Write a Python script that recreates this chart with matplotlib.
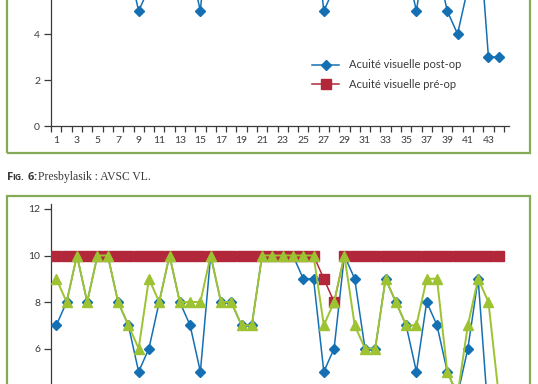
import matplotlib
matplotlib.use("Agg")
import matplotlib.pyplot as plt
from matplotlib.patches import Rectangle

W, H, DPI = 538, 384, 100

# ---------------- data ----------------
patients = list(range(1, 45))
post_op = [7, 8, 10, 8, 10, 10, 8, 7, 5, 6, 8, 10, 8, 7, 5, 10, 8, 8, 7, 7,
           10, 10, 10, 10, 9, 9, 5, 6, 10, 9, 6, 6, 9, 8, 7, 5, 8, 7, 5, 4,
           6, 9, 3, 3]
post_op_corr = [9, 8, 10, 8, 10, 10, 8, 7, 6, 9, 8, 10, 8, 8, 8, 10, 8, 8, 7, 7,
                10, 10, 10, 10, 10, 10, 7, 8, 10, 7, 6, 6, 9, 8, 7, 7, 9, 9, 5, 4,
                7, 9, 8, 4]
pre_op = [10] * 26 + [9, 8] + [10] * 16
x_tick_pos = list(range(1, 44, 2))
x_tick_labels = [str(i) for i in x_tick_pos]
top_y_ticks = [0, 2, 4]
bottom_y_ticks = [6, 8, 10, 12]
label_post = "Acuité visuelle post-op"
label_pre = "Acuité visuelle pré-op"
caption_rest = "Presbylasik : AVSC VL."

BLUE = "#1470b3"
GREEN = "#9dc232"
RED = "#b2283a"
FRAME = "#86ab58"
INK = "#3a3a3a"

plt.rcParams["font.family"] = ["Lato", "DejaVu Sans"]

fig = plt.figure(figsize=(W / DPI, H / DPI), dpi=DPI)
fig.patch.set_facecolor("white")


def px_axes(left, right, y0_px, unit_px, ymax):
    b = (H - y0_px) / H
    h = ymax * unit_px / H
    return fig.add_axes([left / W, b, (right - left) / W, h])


def style(ax, yticks, xlabels=True):
    ax.set_xlim(0.5, 45)
    ax.set_ylim(0, 12.2)
    for s in ["top", "right"]:
        ax.spines[s].set_visible(False)
    for s in ["left", "bottom"]:
        ax.spines[s].set_color(INK)
        ax.spines[s].set_linewidth(0.9)
    ax.set_xticks([i + 0.5 for i in range(0, 45)])
    ax.set_xticklabels([])
    if xlabels:
        ax.set_xticks(x_tick_pos, minor=True)
        ax.set_xticklabels(x_tick_labels, minor=True)
    ax.tick_params(axis="x", which="major", length=4, width=0.9, color=INK, direction="out")
    ax.tick_params(axis="x", which="minor", length=0, pad=7, labelsize=7.5, labelcolor=INK)
    ax.set_yticks(yticks)
    ax.tick_params(axis="y", length=5, width=0.9, color=INK, pad=3, labelsize=7.5, labelcolor=INK)
    ax.patch.set_alpha(0)


# ---------------- top panel (Fig. 6) ----------------
ax1 = px_axes(51.2, 509, 126, 23.0, 12.2)
style(ax1, top_y_ticks)
h_post, = ax1.plot(patients, post_op, color=BLUE, lw=1.1, marker="D", ms=4.8,
                   mfc=BLUE, mec=BLUE, zorder=3, label=label_post)
h_pre, = ax1.plot(patients, pre_op, color=RED, lw=1.1, marker="s", ms=7,
                  mfc=RED, mec=RED, zorder=4, label=label_pre)

fig.legend(handles=[h_post, h_pre], loc="upper left",
           bbox_to_anchor=(311.7 / W, 1 - 59.5 / H), frameon=False,
           borderpad=0, borderaxespad=0, handlelength=2.5, handletextpad=0.9,
           labelspacing=0.78, fontsize=8, labelcolor=INK)

# ---------------- bottom panel ----------------
ax2 = px_axes(51.2, 509, 488, 23.25, 12.2)
style(ax2, bottom_y_ticks, xlabels=False)
ax2.plot(patients, post_op, color=BLUE, lw=1.1, marker="D", ms=4.8,
         mfc=BLUE, mec=BLUE, zorder=3)
ax2.plot(patients, pre_op, color=RED, lw=1.1, marker="s", ms=7,
         mfc=RED, mec=RED, zorder=4)
ax2.plot(patients, post_op_corr, color=GREEN, lw=1.4, marker="^", ms=7,
         mfc=GREEN, mec=GREEN, zorder=5)

# ---------------- frames ----------------
fig.add_artist(Rectangle((6.7 / W, (H - 153) / H), (530 - 6.7) / W, 0.6,
                         transform=fig.transFigure, fill=False, ec=FRAME, lw=1.6))
fig.add_artist(Rectangle((6.7 / W, -0.2), (530 - 6.7) / W, 0.2 + (H - 196) / H,
                         transform=fig.transFigure, fill=False, ec=FRAME, lw=1.6))

# ---------------- caption ----------------
yb = 1 - 180 / H
cap_font = ["Open Sans", "DejaVu Sans"]
fig.text(6.5 / W, yb, "F", fontsize=8.2, fontweight="bold", color=INK,
         va="baseline", family=cap_font)
fig.text(12.2 / W, yb, "IG.", fontsize=6.2, fontweight="bold", color=INK,
         va="baseline", family=cap_font)
fig.text(27.2 / W, yb, "6", fontsize=8.0, fontweight="bold", color=INK,
         va="baseline", family=cap_font)
fig.text(33.2 / W, yb, ":", fontsize=8.0, fontweight="bold", color=INK,
         va="baseline", family=cap_font)
fig.text(37.5 / W, yb, caption_rest, fontsize=8.4, color=INK,
         va="baseline", family=["Liberation Serif", "DejaVu Serif"])

fig.savefig("out.png", dpi=DPI)
